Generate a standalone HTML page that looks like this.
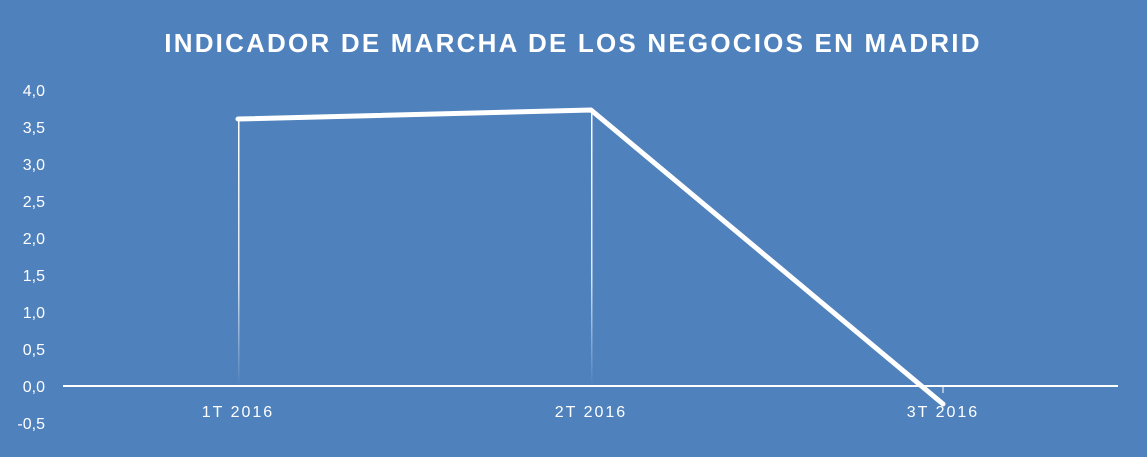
<!DOCTYPE html>
<html><head><style>
body{margin:0;width:1147px;height:452px;background:#4f81bd;overflow:hidden}
svg text{font-family:"Liberation Sans",sans-serif;fill:#fff}
</style></head><body>
<svg width="1147" height="452">
<defs>
<linearGradient id="g" x1="0" y1="0" x2="0" y2="1">
<stop offset="0" stop-color="#fff" stop-opacity="1"/>
<stop offset="0.6" stop-color="#fff" stop-opacity="0.8"/>
<stop offset="1" stop-color="#fff" stop-opacity="0"/>
</linearGradient>
</defs>
<rect width="1147" height="452" fill="#4f81bd"/>
<text x="573" y="52" text-anchor="middle" font-size="26" font-weight="bold" letter-spacing="2.2">INDICADOR DE MARCHA DE LOS NEGOCIOS EN MADRID</text>
<g font-size="16" text-anchor="end">
<text x="45" y="96">4,0</text>
<text x="45" y="133">3,5</text>
<text x="45" y="170">3,0</text>
<text x="45" y="207">2,5</text>
<text x="45" y="244">2,0</text>
<text x="45" y="281">1,5</text>
<text x="45" y="318">1,0</text>
<text x="45" y="355">0,5</text>
<text x="45" y="392">0,0</text>
<text x="45" y="429">-0,5</text>
</g>
<rect x="238" y="119" width="1.5" height="267" fill="url(#g)"/>
<rect x="591" y="110" width="1.5" height="276" fill="url(#g)"/>
<line x1="63" y1="386" x2="1118" y2="386" stroke="#fff" stroke-width="2"/>
<line x1="943" y1="386" x2="943" y2="393" stroke="#fff" stroke-width="1"/>
<polyline points="238,119 591,110 943,404" fill="none" stroke="#fff" stroke-width="5" stroke-linejoin="round" stroke-linecap="round"/>
<g font-size="16" text-anchor="middle" letter-spacing="2">
<text x="238" y="417">1T 2016</text>
<text x="591" y="417">2T 2016</text>
<text x="943" y="417">3T 2016</text>
</g>
</svg>
</body></html>
